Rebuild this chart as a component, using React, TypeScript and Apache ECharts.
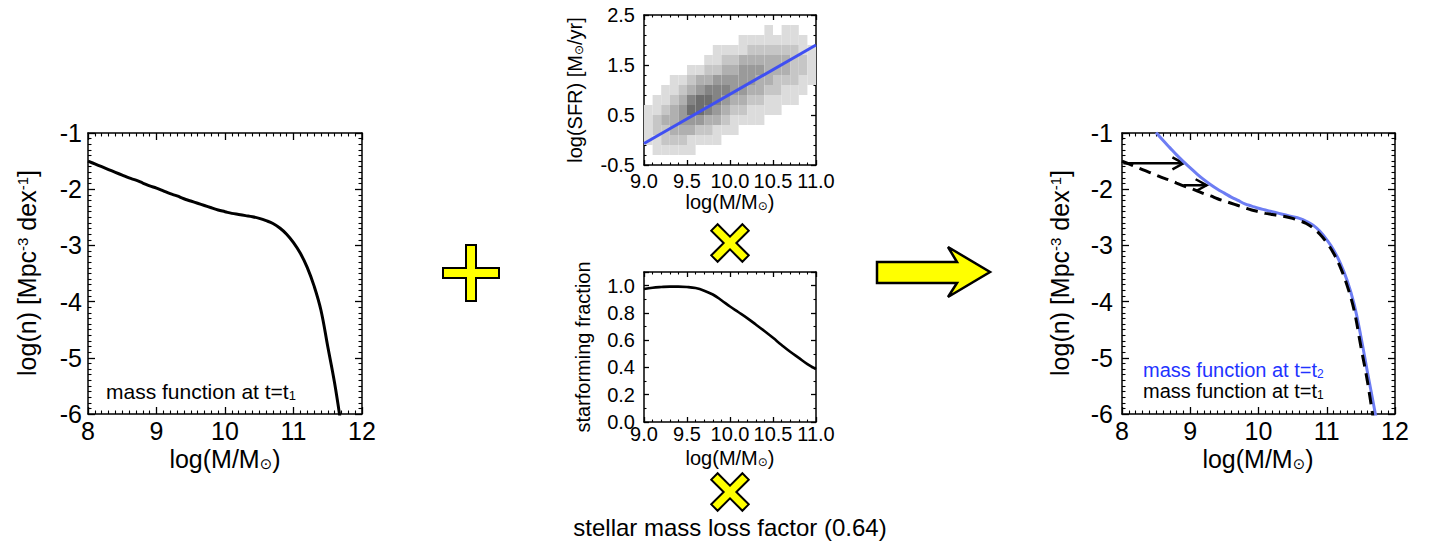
import React, { useEffect, useRef } from 'react';
import * as echarts from 'echarts';

// ---------- data ----------
// mass function at t = t1 (left panel, and dashed in right panel)
const massX1 = [8.0, 8.1, 8.2, 8.3, 8.4, 8.5, 8.6, 8.7, 8.8, 8.9, 9.0, 9.1, 9.2, 9.3, 9.4, 9.5, 9.6, 9.7, 9.8, 9.9, 10.0, 10.1, 10.2, 10.3, 10.4, 10.5, 10.6, 10.7, 10.8, 10.9, 11.0, 11.1, 11.2, 11.3, 11.4, 11.5, 11.6, 11.7];
const massT1 = [-1.50, -1.55, -1.60, -1.65, -1.70, -1.75, -1.80, -1.84, -1.89, -1.94, -1.98, -2.03, -2.08, -2.12, -2.17, -2.21, -2.25, -2.29, -2.33, -2.37, -2.40, -2.43, -2.45, -2.47, -2.49, -2.52, -2.56, -2.61, -2.69, -2.80, -2.95, -3.14, -3.39, -3.72, -4.15, -4.80, -5.45, -6.24];

// mass function at t = t2 (right panel, blue)
const massX2 = [8.5, 8.6, 8.7, 8.8, 8.9, 9.0, 9.1, 9.2, 9.3, 9.4, 9.5, 9.6, 9.7, 9.8, 9.9, 10.0, 10.1, 10.2, 10.3, 10.4, 10.5, 10.6, 10.7, 10.8, 10.9, 11.0, 11.1, 11.2, 11.3, 11.4, 11.5, 11.6, 11.7, 11.8];
const massT2 = [-0.99, -1.13, -1.26, -1.39, -1.51, -1.62, -1.73, -1.83, -1.92, -2.00, -2.07, -2.14, -2.20, -2.26, -2.30, -2.34, -2.37, -2.40, -2.43, -2.46, -2.49, -2.52, -2.57, -2.64, -2.75, -2.90, -3.08, -3.32, -3.63, -4.04, -4.62, -5.28, -5.92, -6.6];

// arrows in right panel: start and end points
const arrowStart = [[8.02, -1.54], [8.9, -1.93]];
const arrowEnd = [[8.9, -1.54], [9.24, -1.93]];

// SFR main sequence fit (middle top)
const sfrLineX = [9.0, 11.0];
const sfrLineY = [-0.07, 1.9];

// SFR 2D histogram (middle top): bin centres and relative density (0 = empty)
const sfrBinX = [9.05, 9.15, 9.25, 9.35, 9.45, 9.55, 9.65, 9.75, 9.85, 9.95, 10.05, 10.15, 10.25, 10.35, 10.45, 10.55, 10.65, 10.75, 10.85, 10.95];
const sfrBinY = [2.4, 2.2, 2.0, 1.8, 1.6, 1.4, 1.2, 1.0, 0.8, 0.6, 0.4, 0.2, 0.0, -0.2, -0.4];
const sfrDensity = [
  [0, 0, 0, 0, 0, 0, 0, 0, 0, 0, 0, 0, 0, 0, 0, 0, 0, 0, 0, 0],
  [0, 0, 0, 0, 0, 0, 0, 0, 0, 0, 0, 0, 0, 0, 1, 0, 1, 1, 0, 0],
  [0, 0, 0, 0, 0, 0, 0, 0, 0, 0, 0, 1, 1, 1, 1, 1, 1, 1, 1, 0],
  [0, 0, 0, 0, 0, 0, 0, 0, 1, 1, 1, 1, 2, 2, 2, 2, 2, 2, 1, 1],
  [0, 0, 0, 0, 0, 0, 0, 1, 1, 2, 2, 3, 3, 3, 3, 3, 3, 2, 2, 1],
  [0, 0, 0, 0, 0, 1, 1, 2, 2, 3, 3, 4, 4, 4, 3, 3, 3, 2, 2, 1],
  [0, 0, 0, 1, 1, 2, 3, 3, 4, 4, 4, 4, 4, 3, 3, 2, 2, 2, 1, 1],
  [0, 0, 1, 1, 2, 3, 4, 5, 5, 5, 4, 4, 3, 3, 2, 2, 1, 1, 1, 0],
  [0, 1, 1, 2, 3, 5, 6, 6, 5, 4, 3, 3, 2, 2, 1, 1, 1, 1, 0, 0],
  [1, 1, 2, 3, 4, 6, 6, 5, 4, 3, 2, 2, 1, 1, 1, 1, 0, 0, 0, 0],
  [1, 2, 3, 3, 4, 4, 4, 3, 3, 2, 1, 1, 1, 1, 0, 0, 0, 0, 0, 0],
  [1, 2, 2, 3, 3, 3, 2, 2, 1, 1, 1, 0, 0, 0, 0, 0, 0, 0, 0, 0],
  [1, 1, 2, 2, 2, 1, 1, 1, 1, 0, 0, 0, 0, 0, 0, 0, 0, 0, 0, 0],
  [0, 1, 1, 1, 1, 1, 0, 0, 0, 0, 0, 0, 0, 0, 0, 0, 0, 0, 0, 0],
  [0, 0, 0, 0, 0, 0, 0, 0, 0, 0, 0, 0, 0, 0, 0, 0, 0, 0, 0, 0],
];

// starforming fraction (middle bottom)
const fracX = [9.0, 9.1, 9.2, 9.3, 9.4, 9.5, 9.6, 9.7, 9.8, 9.9, 10.0, 10.1, 10.2, 10.3, 10.4, 10.5, 10.6, 10.7, 10.8, 10.9, 11.0];
const fracY = [0.975, 0.985, 0.99, 0.993, 0.993, 0.99, 0.982, 0.963, 0.935, 0.893, 0.847, 0.805, 0.762, 0.715, 0.667, 0.617, 0.565, 0.515, 0.47, 0.425, 0.388];

// ---------- styling ----------
const FONT = '"Liberation Sans", Arial, Helvetica, sans-serif';
const SYM = '"DejaVu Sans", sans-serif';
const YELLOW = '#ffff00';

function axis(grid: number, position: string, min: number, max: number, interval: number,
  minor: number, tickLen: number, showLabels: boolean, fontSize: number, margin: number,
  formatter?: (v: number) => string, extra: any = {}) {
  return {
    type: 'value', gridIndex: grid, position, min, max, interval,
    axisLine: { show: true, onZero: false, lineStyle: { color: '#000', width: 1.5 } },
    axisTick: { show: true, inside: true, length: tickLen, lineStyle: { color: '#000', width: 1.3 } },
    minorTick: { show: true, splitNumber: minor, length: tickLen / 2, lineStyle: { color: '#000', width: 1.1 } },
    splitLine: { show: false },
    minorSplitLine: { show: false },
    axisLabel: {
      show: showLabels, color: '#000', fontSize, fontFamily: FONT, margin,
      formatter: formatter || ((v: number) => String(v)),
      ...extra,
    },
  };
}

function crossPoints(L: number, t: number) {
  return [[-t, -L], [t, -L], [t, -t], [L, -t], [L, t], [t, t], [t, L], [-t, L], [-t, t], [-L, t], [-L, -t], [-t, -t]];
}

function txt(x: number, y: number, text: string, fontSize: number, opts: any = {}) {
  const subSize = Math.round(fontSize * 0.6);
  const fill = opts.fill || '#000';
  return {
    type: 'text', x, y, rotation: opts.rotation || 0, z: 10,
    style: {
      text, fontSize, fontFamily: FONT, fill,
      align: opts.align || 'center', verticalAlign: 'middle',
      rich: {
        sup: { fontSize: subSize, fontFamily: FONT, verticalAlign: 'top', fill },
        sub: { fontSize: subSize, fontFamily: FONT, verticalAlign: 'bottom', fill },
        sym: { fontSize: subSize, fontFamily: SYM, verticalAlign: 'bottom', fill },
      },
    },
  };
}

export default function App() {
  const ref = useRef<HTMLDivElement>(null);
  useEffect(() => {
    if (!ref.current) return;
    const chart = echarts.init(ref.current, null, { renderer: 'svg' });

    const heatData: number[][] = [];
    sfrBinY.forEach((y, r) => sfrBinX.forEach((x, c) => {
      const v = sfrDensity[r][c];
      if (v > 0) heatData.push([x, y, v]);
    }));

    const f1 = (v: number) => v.toFixed(1);

    const option: any = {
      animation: false,
      backgroundColor: '#fff',
      grid: [
        { left: 88, top: 133, width: 274, height: 281 },
        { left: 644, top: 15, width: 172, height: 150 },
        { left: 644, top: 272, width: 172, height: 150 },
        { left: 1122, top: 133, width: 273, height: 281 },
      ],
      xAxis: [
        axis(0, 'bottom', 8, 12, 1, 10, 7, true, 25, 4),
        axis(0, 'top', 8, 12, 1, 10, 7, false, 25, 4),
        axis(1, 'bottom', 9, 11, 0.5, 5, 5, true, 20, 6, f1),
        axis(1, 'top', 9, 11, 0.5, 5, 5, false, 20, 6),
        axis(2, 'bottom', 9, 11, 0.5, 5, 5, true, 20, 2, f1),
        axis(2, 'top', 9, 11, 0.5, 5, 5, false, 20, 2),
        axis(3, 'bottom', 8, 12, 1, 10, 7, true, 25, 4),
        axis(3, 'top', 8, 12, 1, 10, 7, false, 25, 4),
      ],
      yAxis: [
        axis(0, 'left', -6, -1, 1, 10, 7, true, 25, 6),
        axis(0, 'right', -6, -1, 1, 10, 7, false, 25, 6),
        axis(1, 'left', -0.5, 2.5, 1, 5, 5, true, 20, 9, f1),
        axis(1, 'right', -0.5, 2.5, 1, 5, 5, false, 20, 9),
        axis(2, 'left', 0, 1.1, 0.2, 2, 5, true, 20, 9, f1, { showMaxLabel: false }),
        axis(2, 'right', 0, 1.1, 0.2, 2, 5, false, 20, 9),
        axis(3, 'left', -6, -1, 1, 10, 7, true, 25, 9),
        axis(3, 'right', -6, -1, 1, 10, 7, false, 25, 9),
      ],
      series: [
        {
          name: 'mass function at t=t1', type: 'line', xAxisIndex: 0, yAxisIndex: 0,
          data: massX1.map((x, i) => [x, massT1[i]]), showSymbol: false, smooth: 0.4, clip: true,
          lineStyle: { color: '#000', width: 3 },
        },
        {
          name: 'SFR histogram', type: 'custom', xAxisIndex: 2, yAxisIndex: 2, clip: true,
          data: heatData,
          renderItem: (params: any, api: any) => {
            const x = api.value(0), y = api.value(1), v = api.value(2);
            const p0 = api.coord([x - 0.05, y + 0.1]);
            const p1 = api.coord([x + 0.05, y - 0.1]);
            const g = Math.round(242 - v * 22);
            return {
              type: 'rect',
              shape: { x: p0[0], y: p0[1], width: p1[0] - p0[0], height: p1[1] - p0[1] },
              style: { fill: `rgb(${g},${g},${g})` },
            };
          },
        },
        {
          name: 'SFR fit', type: 'line', xAxisIndex: 2, yAxisIndex: 2,
          data: sfrLineX.map((x, i) => [x, sfrLineY[i]]), showSymbol: false,
          lineStyle: { color: '#3f4ff2', width: 3 },
        },
        {
          name: 'starforming fraction', type: 'line', xAxisIndex: 4, yAxisIndex: 4,
          data: fracX.map((x, i) => [x, fracY[i]]), showSymbol: false, smooth: 0.4,
          lineStyle: { color: '#000', width: 2.6 },
        },
        {
          name: 'mass function at t=t2', type: 'line', xAxisIndex: 6, yAxisIndex: 6,
          data: massX2.map((x, i) => [x, massT2[i]]), showSymbol: false, smooth: 0.4, clip: true,
          lineStyle: { color: '#6d7df3', width: 3 },
        },
        {
          name: 'mass function at t=t1 (dashed)', type: 'line', xAxisIndex: 6, yAxisIndex: 6,
          data: massX1.map((x, i) => [x, massT1[i]]), showSymbol: false, smooth: 0.4, clip: true,
          lineStyle: { color: '#000', width: 3, type: [12, 7] },
        },
        {
          name: 'arrows', type: 'custom', xAxisIndex: 6, yAxisIndex: 6,
          data: arrowStart.map((s, i) => [s[0], s[1], arrowEnd[i][0], arrowEnd[i][1]]),
          encode: { x: [0, 2], y: [1, 3] },
          renderItem: (params: any, api: any) => {
            const a = api.coord([api.value(0), api.value(1)]);
            const b = api.coord([api.value(2), api.value(3)]);
            return {
              type: 'group',
              children: [
                { type: 'line', shape: { x1: a[0], y1: a[1], x2: b[0], y2: b[1] }, style: { stroke: '#000', lineWidth: 2.5 } },
                {
                  type: 'polyline',
                  shape: { points: [[b[0] - 11, b[1] - 6], [b[0], b[1]], [b[0] - 11, b[1] + 6]] },
                  style: { stroke: '#000', lineWidth: 2.5, fill: null },
                },
              ],
            };
          },
        },
      ],
      graphic: [
        // left panel texts
        txt(27, 273, 'log(n) [Mpc{sup|-3} dex{sup|-1}]', 25, { rotation: Math.PI / 2 }),
        txt(225, 459, 'log(M/M{sym|⊙})', 25),
        txt(106, 391, 'mass function at t=t{sub|1}', 21, { align: 'left' }),
        // plus
        { type: 'polygon', x: 471, y: 273, shape: { points: crossPoints(28, 5) }, style: { fill: YELLOW, stroke: '#000', lineWidth: 2 } },
        // middle top texts
        txt(575, 90, 'log(SFR) [M{sym|⊙}/yr]', 20, { rotation: Math.PI / 2 }),
        txt(730, 202, 'log(M/M{sym|⊙})', 20),
        { type: 'polygon', x: 730, y: 243, rotation: Math.PI / 4, shape: { points: crossPoints(22, 4.5) }, style: { fill: YELLOW, stroke: '#000', lineWidth: 2 } },
        // middle bottom texts
        txt(583, 347, 'starforming fraction', 20, { rotation: Math.PI / 2 }),
        txt(730, 458, 'log(M/M{sym|⊙})', 20),
        { type: 'polygon', x: 730, y: 492, rotation: Math.PI / 4, shape: { points: crossPoints(22, 4.5) }, style: { fill: YELLOW, stroke: '#000', lineWidth: 2 } },
        txt(730, 527, 'stellar mass loss factor (0.64)', 24),
        // big arrow
        {
          type: 'polygon',
          shape: { points: [[877, 262], [957, 262], [948, 247], [990, 272], [948, 297], [957, 283], [877, 283]] },
          style: { fill: YELLOW, stroke: '#000', lineWidth: 2.5 },
        },
        // right panel texts
        txt(1060, 273, 'log(n) [Mpc{sup|-3} dex{sup|-1}]', 25, { rotation: Math.PI / 2 }),
        txt(1258, 459, 'log(M/M{sym|⊙})', 25),
        txt(1143, 370, 'mass function at t=t{sub|2}', 20, { align: 'left', fill: '#2233ff' }),
        txt(1143, 391, 'mass function at t=t{sub|1}', 20, { align: 'left' }),
      ],
    };
    chart.setOption(option);
    return () => chart.dispose();
  }, []);
  return (
    <div
      ref={ref}
      style={{ position: 'fixed', left: 0, top: 0, width: 1436, height: 542, background: '#fff' }}
    />
  );
}
